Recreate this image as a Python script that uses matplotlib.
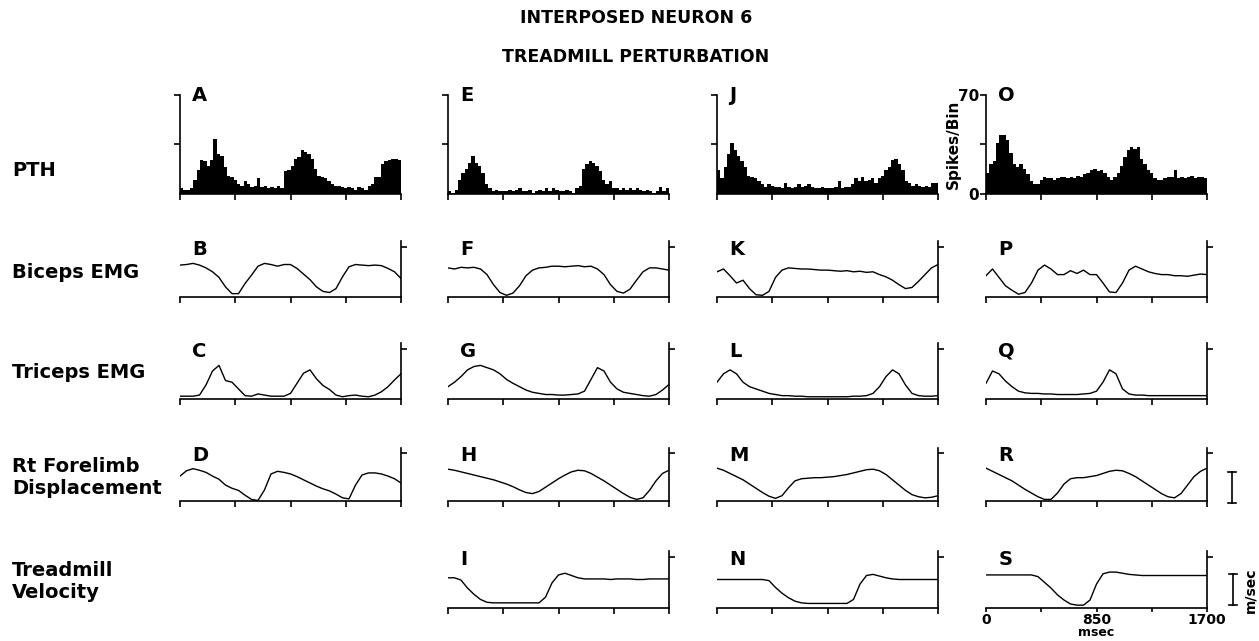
import numpy as np
import matplotlib
matplotlib.use("Agg")
import matplotlib.pyplot as plt
from matplotlib.lines import Line2D

# time axis of the averaged traces (msec), one sample every 50 msec
TIME = np.arange(0, 1701, 50)
XTICKS = [0, 425, 850, 1275, 1700]

# peri-step time histograms (spikes/bin), 66 bins across 1700 msec
PTH_A = [4, 3, 3, 4, 10, 17, 24, 23, 20, 24, 39, 28, 27, 19, 13, 12, 10, 7, 6, 9, 7, 5,
         6, 11, 5, 6, 4, 5, 4, 6, 4, 16, 17, 20, 25, 26, 31, 30, 28, 25, 18, 13, 12, 11,
         9, 7, 6, 6, 5, 4, 5, 4, 3, 5, 4, 3, 6, 7, 12, 12, 21, 23, 24, 25, 25, 24]
PTH_E = [2, 1, 3, 10, 15, 18, 22, 27, 22, 20, 15, 7, 4, 2, 3, 2, 2, 2, 3, 2, 3, 4,
         2, 2, 3, 1, 2, 3, 2, 4, 2, 4, 3, 2, 2, 3, 2, 1, 4, 6, 18, 21, 23, 22, 20, 16,
         10, 7, 9, 4, 4, 3, 4, 3, 4, 3, 4, 3, 2, 3, 2, 1, 2, 5, 2, 4]
PTH_J = [17, 11, 19, 28, 36, 31, 27, 23, 19, 13, 12, 11, 9, 7, 5, 7, 6, 5, 5, 4, 8, 5,
         4, 5, 7, 5, 6, 7, 5, 4, 4, 5, 4, 4, 4, 5, 9, 4, 5, 5, 7, 11, 9, 12, 9, 10, 11,
         8, 11, 13, 17, 19, 24, 25, 21, 17, 9, 8, 6, 7, 6, 5, 6, 5, 8, 8]
PTH_O = [15, 21, 23, 36, 42, 42, 38, 29, 21, 19, 21, 18, 14, 9, 7, 7, 10, 12, 11, 11,
         10, 11, 12, 12, 11, 12, 11, 13, 12, 14, 15, 17, 18, 16, 17, 15, 12, 10, 12, 15,
         20, 26, 31, 33, 32, 33, 25, 21, 17, 15, 11, 10, 10, 11, 12, 12, 17, 11, 12, 11,
         12, 13, 11, 12, 12, 11]

# biceps EMG (relative amplitude)
EMG_B = [0.57, 0.58, 0.60, 0.57, 0.52, 0.45, 0.35, 0.18, 0.06, 0.06, 0.24, 0.39, 0.55, 0.60, 0.58, 0.55, 0.58, 0.58,
         0.51, 0.41, 0.31, 0.18, 0.10, 0.08, 0.15, 0.36, 0.54, 0.58, 0.57, 0.56, 0.57, 0.56, 0.51, 0.45, 0.33]
EMG_F = [0.52, 0.50, 0.53, 0.52, 0.53, 0.50, 0.40, 0.22, 0.08, 0.03, 0.07, 0.20, 0.38, 0.48, 0.52, 0.53, 0.55, 0.55,
         0.54, 0.55, 0.56, 0.54, 0.55, 0.50, 0.40, 0.22, 0.10, 0.07, 0.14, 0.30, 0.45, 0.52, 0.52, 0.50, 0.48]
EMG_K = [0.45, 0.50, 0.38, 0.25, 0.30, 0.15, 0.04, 0.03, 0.10, 0.35, 0.48, 0.52, 0.51, 0.50, 0.50, 0.49, 0.48, 0.48,
         0.47, 0.46, 0.47, 0.45, 0.46, 0.44, 0.45, 0.40, 0.36, 0.30, 0.22, 0.15, 0.17, 0.28, 0.40, 0.52, 0.58]
EMG_P = [0.38, 0.50, 0.35, 0.20, 0.12, 0.05, 0.08, 0.25, 0.48, 0.57, 0.50, 0.40, 0.40, 0.47, 0.42, 0.48, 0.40, 0.40,
         0.25, 0.09, 0.08, 0.25, 0.48, 0.55, 0.50, 0.45, 0.42, 0.40, 0.40, 0.38, 0.38, 0.37, 0.39, 0.41, 0.40]

# triceps EMG (relative amplitude)
EMG_C = [0.05, 0.05, 0.05, 0.07, 0.25, 0.50, 0.60, 0.33, 0.30, 0.18, 0.06, 0.05, 0.09, 0.07, 0.05, 0.05, 0.05, 0.10,
         0.28, 0.46, 0.52, 0.36, 0.24, 0.17, 0.07, 0.04, 0.06, 0.07, 0.05, 0.04, 0.07, 0.13, 0.22, 0.34, 0.45]
EMG_G = [0.22, 0.30, 0.40, 0.52, 0.58, 0.60, 0.56, 0.52, 0.45, 0.35, 0.28, 0.22, 0.16, 0.12, 0.10, 0.08, 0.08, 0.07,
         0.07, 0.08, 0.09, 0.14, 0.35, 0.56, 0.50, 0.30, 0.18, 0.12, 0.10, 0.08, 0.06, 0.05, 0.08, 0.16, 0.26]
EMG_L = [0.30, 0.45, 0.52, 0.45, 0.30, 0.22, 0.18, 0.14, 0.10, 0.08, 0.06, 0.06, 0.05, 0.05, 0.04, 0.04, 0.04, 0.04,
         0.04, 0.04, 0.04, 0.05, 0.05, 0.06, 0.10, 0.22, 0.40, 0.52, 0.45, 0.25, 0.10, 0.06, 0.05, 0.05, 0.06]
EMG_Q = [0.28, 0.50, 0.45, 0.32, 0.22, 0.14, 0.11, 0.10, 0.10, 0.09, 0.09, 0.08, 0.08, 0.08, 0.08, 0.09, 0.10, 0.14,
         0.30, 0.52, 0.45, 0.18, 0.09, 0.07, 0.07, 0.06, 0.06, 0.06, 0.06, 0.06, 0.06, 0.06, 0.06, 0.06, 0.06]

# right forelimb displacement (relative)
DISP_D = [0.47, 0.57, 0.61, 0.58, 0.54, 0.47, 0.41, 0.30, 0.24, 0.20, 0.11, 0.03, 0.01, 0.21, 0.51, 0.56, 0.54, 0.51,
          0.46, 0.40, 0.34, 0.28, 0.23, 0.19, 0.13, 0.06, 0.04, 0.30, 0.49, 0.53, 0.53, 0.51, 0.47, 0.42, 0.34]
DISP_H = [0.60, 0.58, 0.55, 0.52, 0.49, 0.46, 0.43, 0.40, 0.36, 0.32, 0.27, 0.21, 0.16, 0.14, 0.18, 0.26, 0.34, 0.42,
          0.49, 0.55, 0.58, 0.57, 0.52, 0.45, 0.38, 0.30, 0.22, 0.14, 0.07, 0.03, 0.06, 0.20, 0.38, 0.52, 0.58]
DISP_M = [0.62, 0.58, 0.52, 0.46, 0.40, 0.32, 0.24, 0.16, 0.09, 0.05, 0.10, 0.25, 0.38, 0.42, 0.43, 0.44, 0.44, 0.45,
          0.46, 0.48, 0.50, 0.53, 0.56, 0.59, 0.60, 0.57, 0.50, 0.40, 0.30, 0.20, 0.12, 0.08, 0.06, 0.07, 0.10]
DISP_R = [0.62, 0.56, 0.50, 0.44, 0.38, 0.30, 0.22, 0.15, 0.08, 0.03, 0.03, 0.15, 0.32, 0.42, 0.44, 0.44, 0.46, 0.48,
          0.52, 0.56, 0.58, 0.57, 0.52, 0.46, 0.38, 0.30, 0.22, 0.14, 0.08, 0.06, 0.14, 0.30, 0.46, 0.56, 0.62]

# treadmill velocity (relative)
VEL_I = [0.53, 0.53, 0.49, 0.35, 0.24, 0.15, 0.10, 0.09, 0.09, 0.09, 0.09, 0.09, 0.09, 0.09, 0.09, 0.19, 0.44, 0.58,
         0.61, 0.57, 0.53, 0.51, 0.51, 0.51, 0.51, 0.50, 0.51, 0.51, 0.51, 0.50, 0.50, 0.51, 0.51, 0.51, 0.51]
VEL_N = [0.50, 0.50, 0.50, 0.50, 0.50, 0.50, 0.50, 0.50, 0.48, 0.36, 0.26, 0.18, 0.12, 0.09, 0.08, 0.08, 0.08, 0.08,
         0.08, 0.08, 0.08, 0.15, 0.42, 0.57, 0.59, 0.56, 0.53, 0.51, 0.50, 0.50, 0.50, 0.50, 0.50, 0.50, 0.50]
VEL_S = [0.58, 0.58, 0.58, 0.58, 0.58, 0.58, 0.58, 0.58, 0.55, 0.45, 0.35, 0.23, 0.14, 0.07, 0.05, 0.05, 0.14, 0.42,
         0.60, 0.63, 0.63, 0.61, 0.59, 0.58, 0.57, 0.57, 0.57, 0.57, 0.57, 0.57, 0.57, 0.57, 0.57, 0.57, 0.57]

PTH = [("A", PTH_A), ("E", PTH_E), ("J", PTH_J), ("O", PTH_O)]
TRACE_ROWS = [
    [("B", EMG_B), ("F", EMG_F), ("K", EMG_K), ("P", EMG_P)],
    [("C", EMG_C), ("G", EMG_G), ("L", EMG_L), ("Q", EMG_Q)],
    [("D", DISP_D), ("H", DISP_H), ("M", DISP_M), ("R", DISP_R)],
    [(None, None), ("I", VEL_I), ("N", VEL_N), ("S", VEL_S)],
]
ROW_NAMES = ["PTH", "Biceps EMG", "Triceps EMG", "Rt Forelimb\nDisplacement", "Treadmill\nVelocity"]

plt.rcParams["font.family"] = "DejaVu Sans"
plt.rcParams["font.weight"] = "bold"

W, H = 1259, 641
fig = plt.figure(figsize=(W / 100, H / 100), dpi=100)

# pixel layout of the panel grid
COL_LEFT = [180, 448, 717, 986]
COL_W = 221
PTH_BOX = (95, 194)
TRACE_BOX = [(241, 297), (343, 399), (448, 501), (551, 608)]
LABEL_Y = [170, 272, 373, 478, 582]
LW = 1.2


def px_axes(left, top, bottom):
    return fig.add_axes([left / W, 1 - bottom / H, COL_W / W, (bottom - top) / H])


def letter(ax, s, y):
    ax.text(0.055, y, s, transform=ax.transAxes, fontsize=14, fontweight="bold",
            ha="left", va="center")


# PTH row
for col, (name, counts) in enumerate(PTH):
    ax = px_axes(COL_LEFT[col], *PTH_BOX)
    edges = np.linspace(0, 1700, len(counts) + 1)
    ax.stairs(counts, edges, fill=True, color="black", linewidth=0)
    ax.set_xlim(0, 1700)
    ax.set_ylim(0, 70)
    for s in ["top", "right"]:
        ax.spines[s].set_visible(False)
    for s in ["left", "bottom"]:
        ax.spines[s].set_linewidth(LW)
    ax.set_xticks(XTICKS)
    ax.set_xticklabels([])
    ax.tick_params(direction="out", length=4, width=LW)
    if name == "O":
        ax.set_yticks([0, 35, 70])
        ax.set_yticklabels(["0", "", "70"], fontsize=11, fontweight="bold")
        ax.tick_params(axis="y", pad=1)
        ax.set_ylabel("Spikes/Bin", fontsize=11, fontweight="bold", labelpad=-2)
    else:
        ax.set_yticks([35, 70])
        ax.set_yticklabels([])
    ax.patch.set_alpha(0)
    letter(ax, name, 0.99)

# trace rows
for row, panels in enumerate(TRACE_ROWS):
    for col, (name, values) in enumerate(panels):
        if values is None:
            continue
        ax = px_axes(COL_LEFT[col], *TRACE_BOX[row])
        ax.plot(TIME, values, color="black", linewidth=1.0)
        ax.set_xlim(0, 1700)
        ax.set_ylim(0, 1)
        for s in ["top", "left"]:
            ax.spines[s].set_visible(False)
        for s in ["right", "bottom"]:
            ax.spines[s].set_linewidth(LW)
        ax.yaxis.tick_right()
        ax.set_yticks([0.9])
        ax.set_yticklabels([])
        ax.set_xticks(XTICKS)
        ax.tick_params(direction="out", length=4, width=LW)
        if name == "S":
            ax.set_xticklabels(["0", "", "850", "", "1700"], fontsize=10, fontweight="bold")
            ax.tick_params(axis="x", pad=0.5, length=3)
            ax.text(850, -0.43, "msec", transform=ax.get_xaxis_transform(), ha="center",
                    va="center", fontsize=9, fontweight="bold")
        else:
            ax.set_xticklabels([])
        ax.patch.set_alpha(0)
        letter(ax, name, 0.85)

# row labels
for name, y in zip(ROW_NAMES, LABEL_Y):
    fig.text(12 / W, 1 - y / H, name, fontsize=14, fontweight="bold", ha="left",
             va="center", linespacing=1.2)

# title
fig.text(636 / W, 1 - 18 / H, "INTERPOSED NEURON 6", fontsize=12.5, fontweight="bold",
         ha="center", va="center")
fig.text(636 / W, 1 - 57 / H, "TREADMILL PERTURBATION", fontsize=12.5, fontweight="bold",
         ha="center", va="center")


# calibration bars
def scale_bar(x, y0, y1):
    xf = x / W
    fig.add_artist(Line2D([xf, xf], [1 - y0 / H, 1 - y1 / H], color="black", linewidth=LW))
    for y in (y0, y1):
        fig.add_artist(Line2D([xf - 4 / W, xf + 4 / W], [1 - y / H] * 2, color="black",
                              linewidth=LW))


scale_bar(1232, 472, 503)
scale_bar(1233, 574, 605)
fig.text(1250 / W, 1 - 590 / H, "m/sec", rotation=90, fontsize=10, fontweight="bold",
         ha="center", va="center")

fig.savefig("out.png", dpi=100)
